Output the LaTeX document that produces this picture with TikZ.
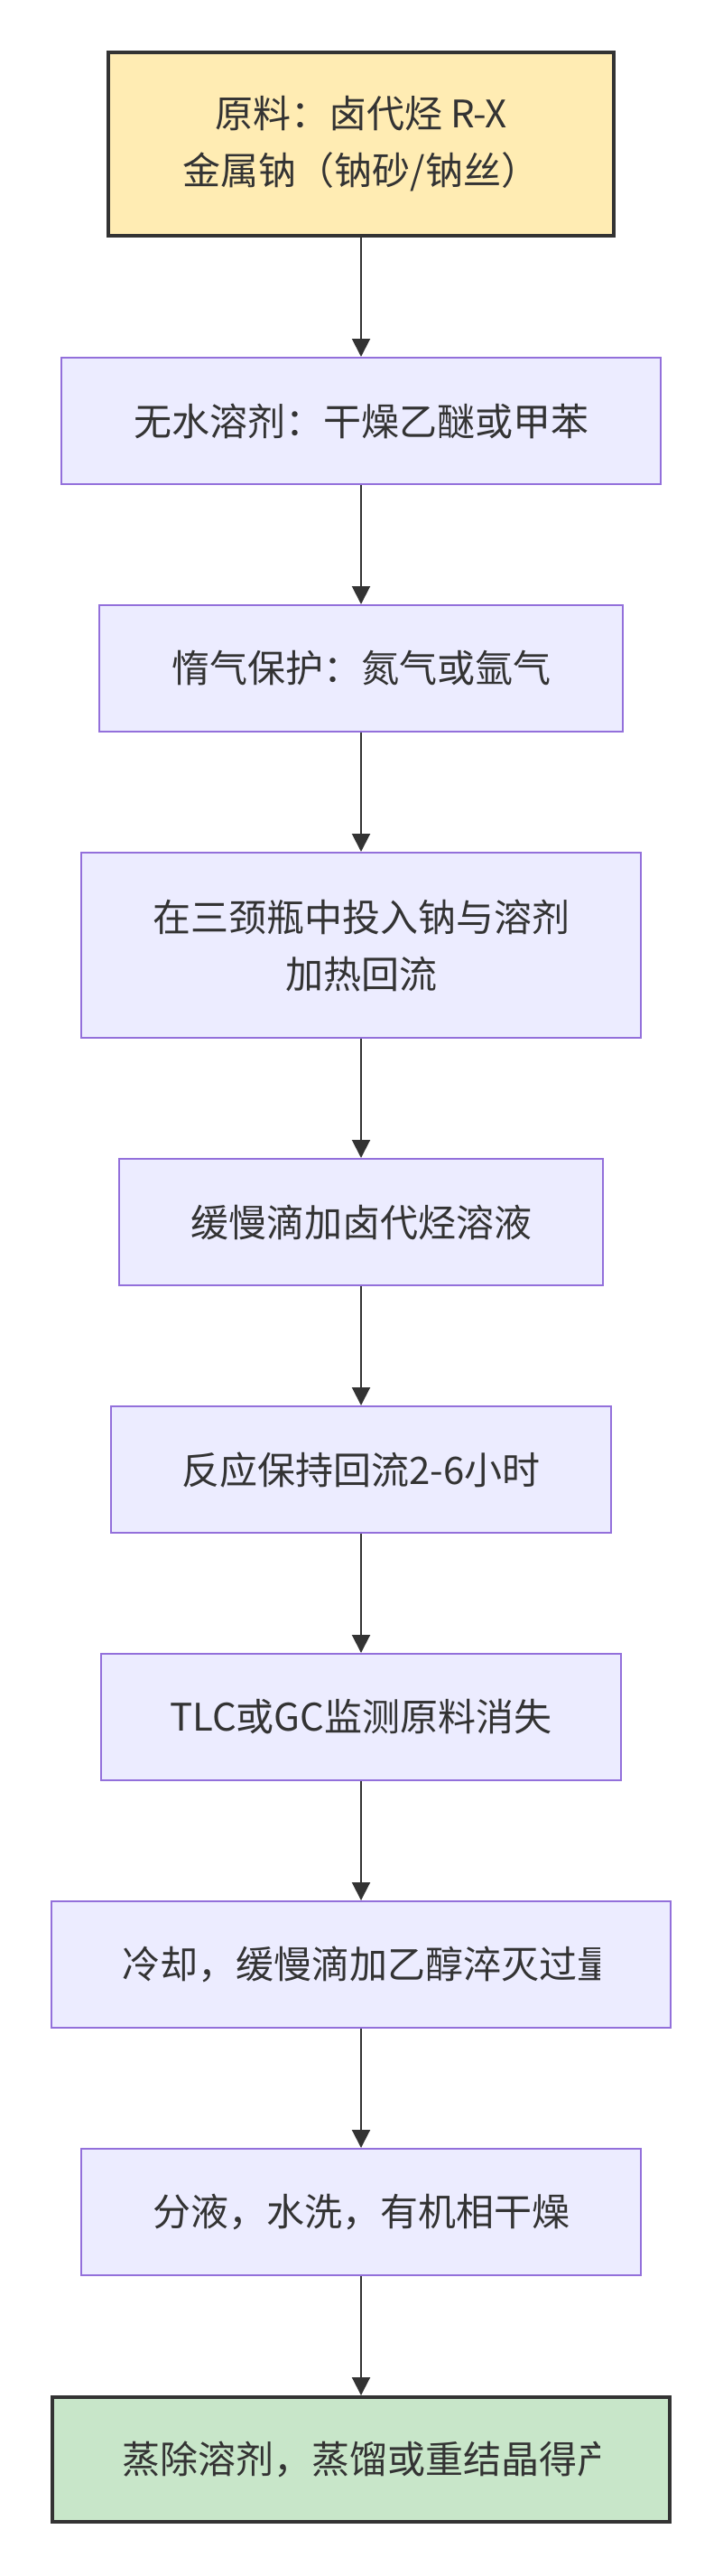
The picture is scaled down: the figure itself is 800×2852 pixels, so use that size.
\documentclass[tikz,border=0pt]{standalone}
\usepackage{fontspec}
\newfontfamily\cjk{Noto Sans CJK SC}
\usetikzlibrary{arrows.meta}
\definecolor{ink}{HTML}{333333}
\definecolor{boxfill}{HTML}{ECECFF}
\definecolor{boxline}{HTML}{9370DB}
\definecolor{startfill}{HTML}{FFECB3}
\definecolor{endfill}{HTML}{C8E6C9}

\begin{document}
\begin{tikzpicture}[x=1pt,y=-1pt,
  every node/.style={text=ink,font=\cjk\fontsize{42}{63}\selectfont},
  stepbox/.style={draw=boxline,fill=boxfill,line width=2pt,minimum height=140pt,inner sep=0pt,align=center},
  startbox/.style={draw=ink,fill=startfill,line width=4pt,minimum height=203pt,inner sep=0pt,align=center},
  endbox/.style={draw=ink,fill=endfill,line width=4pt,minimum height=138pt,inner sep=0pt},
  flow/.style={draw=ink,line width=2pt,-{Triangle[length=20pt,width=20pt]}}]
\useasboundingbox (0,0) rectangle (800,2852);

% steps, top to bottom
\node[startbox,minimum width=560pt] (feed) at (400,159.5) {原料：卤代烃 R-X\\金属钠（钠砂/钠丝）};
\node[stepbox,minimum width=664pt] (solvent) at (400,466) {无水溶剂：干燥乙醚或甲苯};
\node[stepbox,minimum width=580pt] (inert) at (400,740) {惰气保护：氮气或氩气};
\node[stepbox,minimum width=620pt,minimum height=205pt] (charge) at (400,1046.5) {在三颈瓶中投入钠与溶剂\\加热回流};
\node[stepbox,minimum width=536pt] (addition) at (400,1353) {缓慢滴加卤代烃溶液};
\node[stepbox,minimum width=554pt] (reflux) at (400,1627) {反应保持回流2-6小时};
\node[stepbox,minimum width=576pt] (monitor) at (400,1901) {TLC或GC监测原料消失};
\node[stepbox,minimum width=686pt] (quench) at (400,2175) {};
\node[stepbox,minimum width=620pt] (workup) at (400,2449) {分液，水洗，有机相干燥};
\node[endbox,minimum width=684pt] (product) at (400,2723) {};

% long labels are cut off at the right
\coordinate (cut) at (664,0);
\begin{scope}
\clip (quench.north west) rectangle (cut |- quench.south);
\node[anchor=west,inner sep=0pt] (quenchtext) at (135,2175) {冷却，缓慢滴加乙醇淬灭过量};
\end{scope}
\begin{scope}
\clip (product.north west) rectangle (cut |- product.south);
\node[anchor=west,inner sep=0pt] (producttext) at (135,2723) {蒸除溶剂，蒸馏或重结晶得产};
\end{scope}

\draw[flow] (feed) -- (solvent);
\draw[flow] (solvent) -- (inert);
\draw[flow] (inert) -- (charge);
\draw[flow] (charge) -- (addition);
\draw[flow] (addition) -- (reflux);
\draw[flow] (reflux) -- (monitor);
\draw[flow] (monitor) -- (quench);
\draw[flow] (quench) -- (workup);
\draw[flow] (workup) -- (product);
\end{tikzpicture}
\end{document}
